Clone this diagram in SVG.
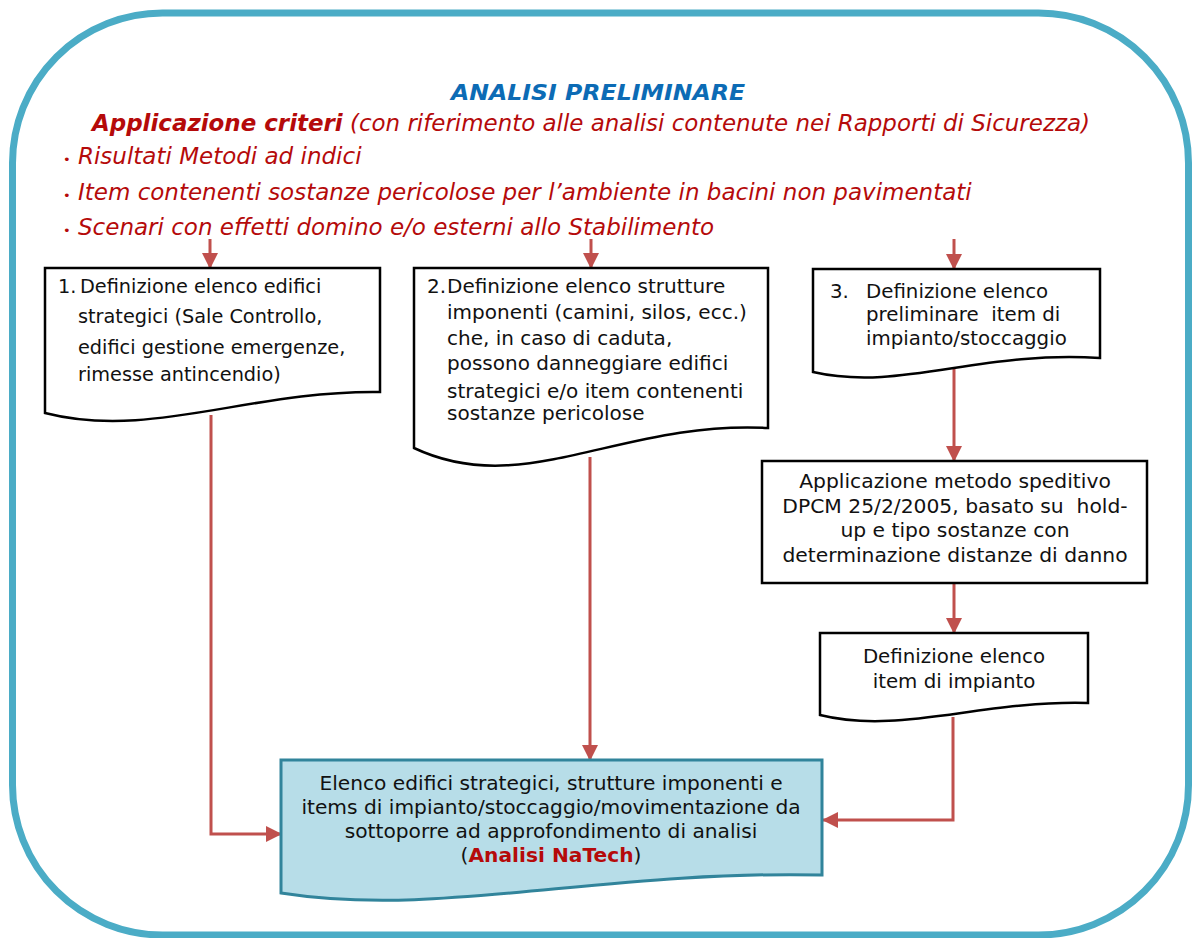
<svg xmlns="http://www.w3.org/2000/svg" width="1196" height="938" viewBox="0 0 1196 938">
<defs>
<style>
.frame{fill:#ffffff;stroke:#4BACC6;stroke-width:7}
.doc{fill:#ffffff;stroke:#000000;stroke-width:2.5;stroke-linejoin:miter}
.fin{fill:#B7DDE8;stroke:#31849B;stroke-width:3}
.conn{fill:none;stroke:#C0504D;stroke-width:3}
.t{font-family:"DejaVu Sans","Liberation Sans",sans-serif;fill:#111111;white-space:pre}
.red{font-family:"DejaVu Sans","Liberation Sans",sans-serif;font-style:italic;fill:#B50A0A}
.title{font-family:"DejaVu Sans","Liberation Sans",sans-serif;font-style:italic;font-weight:bold;fill:#0C6BB5}
</style>
<marker id="ah" markerUnits="userSpaceOnUse" markerWidth="16" markerHeight="16" viewBox="0 0 16 16" refX="15" refY="8" orient="auto">
<path d="M0,0 L16,8 L0,16 Z" fill="#C0504D"/>
</marker>
</defs>
<rect x="0" y="0" width="1196" height="938" fill="#ffffff"/>
<rect class="frame" x="12.5" y="13" width="1176" height="922" rx="150" ry="150"/>

<g id="header">
<text class="title" x="598" y="100" font-size="22" text-anchor="middle" textLength="294" lengthAdjust="spacingAndGlyphs">ANALISI PRELIMINARE</text>
<text class="red" x="92" y="131" font-size="22.5" textLength="998" lengthAdjust="spacingAndGlyphs"><tspan font-weight="bold">Applicazione criteri</tspan> (con riferimento alle analisi contenute nei Rapporti di Sicurezza)</text>
<text class="red" x="63" y="164" font-size="23"><tspan font-size="13" font-style="normal">•</tspan> Risultati Metodi ad indici</text>
<text class="red" x="63" y="200" font-size="23"><tspan font-size="13" font-style="normal">•</tspan> Item contenenti sostanze pericolose per l’ambiente in bacini non pavimentati</text>
<text class="red" x="63" y="235" font-size="23"><tspan font-size="13" font-style="normal">•</tspan> Scenari con effetti domino e/o esterni allo Stabilimento</text>
</g>

<g id="connectors">
<line class="conn" x1="210" y1="239" x2="210" y2="268" marker-end="url(#ah)"/>
<line class="conn" x1="591" y1="239" x2="591" y2="268" marker-end="url(#ah)"/>
<line class="conn" x1="954" y1="239" x2="954" y2="269" marker-end="url(#ah)"/>
<polyline class="conn" points="211,415 211,834 281,834" marker-end="url(#ah)"/>
<line class="conn" x1="590" y1="457" x2="590" y2="760" marker-end="url(#ah)"/>
<line class="conn" x1="954" y1="366" x2="954" y2="461" marker-end="url(#ah)"/>
<line class="conn" x1="954" y1="583" x2="954" y2="633" marker-end="url(#ah)"/>
<polyline class="conn" points="953,717 953,820 823,820" marker-end="url(#ah)"/>
</g>

<g id="box1">
<path class="doc" d="M45,268 H380 V392 C250,390 150,440 45,413 Z"/>
<text class="t" font-size="19.3"><tspan x="58" y="293">1.</tspan><tspan x="80" y="293">Definizione elenco edifici</tspan><tspan x="78" y="323">strategici (Sale Controllo,</tspan><tspan x="78" y="354">edifici gestione emergenze,</tspan><tspan x="78" y="381">rimesse antincendio)</tspan></text>
</g>

<g id="box2">
<path class="doc" d="M414,268 H768 V428 C620,420 524,500 414,448 Z"/>
<text class="t" font-size="20"><tspan x="427" y="293">2.</tspan><tspan x="447" y="293">Definizione elenco strutture</tspan><tspan x="447" y="319">imponenti (camini, silos, ecc.)</tspan><tspan x="447" y="345">che, in caso di caduta,</tspan><tspan x="447" y="370">possono danneggiare edifici</tspan><tspan x="447" y="398">strategici e/o item contenenti</tspan><tspan x="447" y="420">sostanze pericolose</tspan></text>
</g>

<g id="box3">
<path class="doc" d="M813,269 H1100 V358 C980,350 900,392 813,372 Z"/>
<text class="t" font-size="19.8"><tspan x="830" y="298">3.</tspan><tspan x="866" y="298">Definizione elenco</tspan><tspan x="866" y="321">preliminare  item di</tspan><tspan x="866" y="345">impianto/stoccaggio</tspan></text>
</g>

<g id="box4">
<rect class="doc" x="762" y="461" width="385" height="122"/>
<text class="t" font-size="20.3" text-anchor="middle"><tspan x="955" y="488">Applicazione metodo speditivo</tspan><tspan x="955" y="513">DPCM 25/2/2005, basato su  hold-</tspan><tspan x="955" y="537">up e tipo sostanze con</tspan><tspan x="955" y="562">determinazione distanze di danno</tspan></text>
</g>

<g id="box5">
<path class="doc" d="M820,633 H1088 V703 C980,700 900,735 820,715 Z"/>
<text class="t" font-size="19.8" text-anchor="middle"><tspan x="954" y="663">Definizione elenco</tspan><tspan x="954" y="688">item di impianto</tspan></text>
</g>

<g id="box6">
<path class="fin" d="M281,760 H822 V875 C600,870 440,918 281,893 Z"/>
<text class="t" font-size="20.2" text-anchor="middle"><tspan x="551" y="790">Elenco edifici strategici, strutture imponenti e</tspan><tspan x="551" y="814">items di impianto/stoccaggio/movimentazione da</tspan><tspan x="551" y="838">sottoporre ad approfondimento di analisi</tspan><tspan x="551" y="862">(<tspan font-weight="bold" fill="#B50A0A">Analisi NaTech</tspan>)</tspan></text>
</g>
</svg>
